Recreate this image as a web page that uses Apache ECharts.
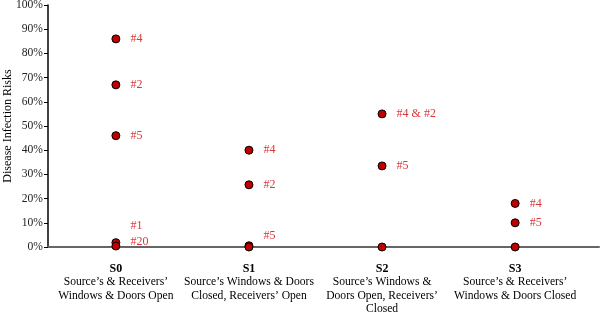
<!DOCTYPE html>
<html><head><meta charset="utf-8">
<script src="https://cdn.jsdelivr.net/npm/echarts@6/dist/echarts.min.js"></script>
<style>html,body{margin:0;padding:0;background:#fff}#c{width:600px;height:316px}</style>
</head><body><div id="c"></div>
<script>
var scenarioCodes = ['S0', 'S1', 'S2', 'S3'];
var scenarioNames = [
  "Source’s & Receivers’\nWindows & Doors Open",
  "Source’s Windows & Doors\nClosed, Receivers’ Open",
  "Source’s Windows &\nDoors Open, Receivers’\nClosed",
  "Source’s & Receivers’\nWindows & Doors Closed"
];
var yTicks = [0, 10, 20, 30, 40, 50, 60, 70, 80, 90, 100];
// points: scenario index, risk (%), label
var pointScenario = [0, 0, 0, 0, 0, 1, 1, 1, 1, 2, 2, 2, 3, 3, 3];
var pointRisk     = [86, 67, 46, 1.8, 0.4, 40, 25.7, 0.5, 0, 55, 33.5, 0, 18, 10, 0];
var pointLabel    = ['#4', '#2', '#5', '#1', '#20', '#4', '#2', '#5', '', '#4 & #2', '#5', '', '#4', '#5', ''];

// label vertical nudges (style only), keyed by point index
var labelNudge = {3: -17, 4: -4, 7: -10};

var chart = echarts.init(document.getElementById('c'));
var data = pointScenario.map(function (s, i) {
  return {
    value: [s, pointRisk[i]],
    label: {show: !!pointLabel[i], formatter: pointLabel[i], offset: [0, labelNudge[i] || 0]}
  };
});
chart.setOption({
  animation: false,
  textStyle: {fontFamily: 'Liberation Serif'},
  grid: {left: 48, right: 1, top: 5, bottom: 69, outerBoundsMode: 'none', containLabel: false},
  xAxis: {
    type: 'value', min: -0.51, max: 3.63,
    splitLine: {show: false},
    axisTick: {show: false},
    axisLine: {show: true, onZero: true, lineStyle: {color: '#666', width: 2}},
    axisLabel: {
      customValues: [0, 1, 2, 3],
      showMinLabel: true, showMaxLabel: true, hideOverlap: false,
      margin: 15,
      lineHeight: 13.5,
      formatter: function (v) {
        var i = Math.round(v);
        return '{b|' + scenarioCodes[i] + '}\n{n|' + scenarioNames[i].split('\n').join('}\n{n|') + '}';
      },
      rich: {
        b: {fontFamily: 'Liberation Serif', fontWeight: 'bold', fontSize: 12, color: '#000', lineHeight: 13.5},
        n: {fontFamily: 'Liberation Serif', fontSize: 11.6, color: '#000', lineHeight: 13.5}
      }
    }
  },
  yAxis: {
    type: 'value', min: 0, max: 100, interval: 10,
    name: 'Disease Infection Risks', nameLocation: 'middle', nameGap: 34, nameMoveOverlap: false,
    nameTextStyle: {fontFamily: 'Liberation Serif', fontSize: 12, color: '#000'},
    splitLine: {show: false},
    axisLine: {show: true, onZero: false, lineStyle: {color: '#000', width: 1.5}},
    axisTick: {show: true, length: 4, lineStyle: {color: '#000'}},
    axisLabel: {formatter: function (v) { return v + '%'; }, fontFamily: 'Liberation Serif', fontSize: 11.6, color: '#222', margin: 5}
  },
  series: [{
    type: 'scatter',
    symbolSize: 8,
    itemStyle: {color: '#c00000', borderColor: '#000', borderWidth: 1, opacity: 1},
    label: {position: 'right', distance: 10, color: '#d9383a', fontFamily: 'Liberation Serif', fontSize: 12},
    data: data
  }]
});
</script></body></html>
